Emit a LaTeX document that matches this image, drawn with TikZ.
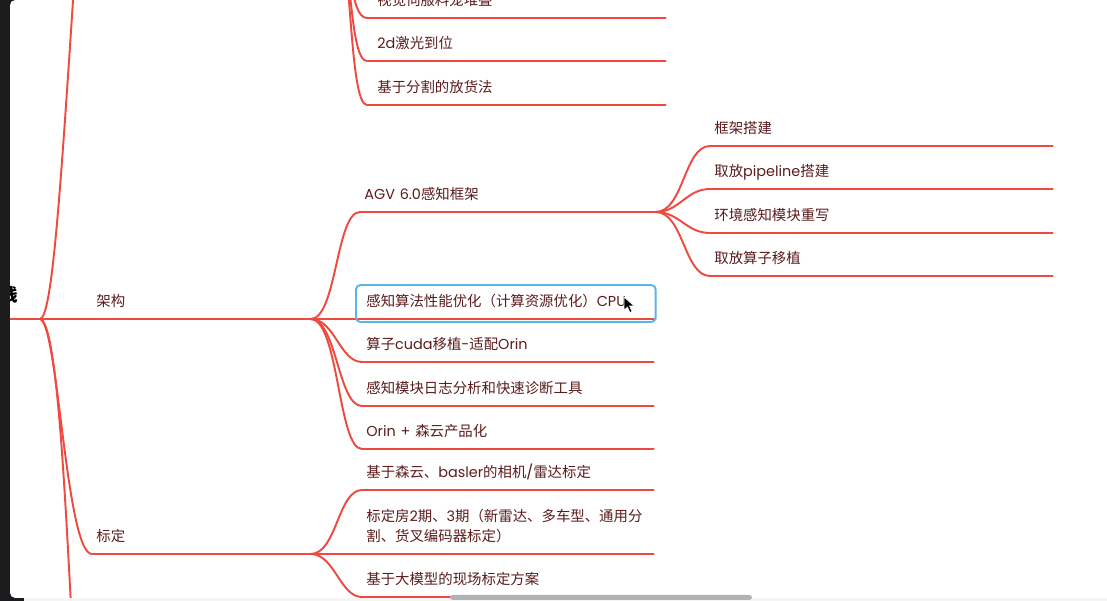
\documentclass[tikz,border=0pt]{standalone}
\usepackage{fontspec}
\setmainfont{Poppins}
\newfontfamily\cjkfont{Noto Sans CJK SC}
\usetikzlibrary{calc}
\definecolor{mmred}{RGB}{238,74,64}
\definecolor{mmtext}{RGB}{92,28,28}
\definecolor{mmblue}{RGB}{88,182,232}
\definecolor{winedge}{RGB}{28,28,30}
\definecolor{scrollgrey}{RGB}{178,178,178}
% CJK runs in Noto, the rest in Poppins
\XeTeXinterchartokenstate=1
\newXeTeXintercharclass\cjkcls
\newcount\cjkc
\cjkc="3000 \loop\XeTeXcharclass\cjkc=\cjkcls\relax\ifnum\cjkc<"9FFF\relax\advance\cjkc by 1\repeat
\cjkc="FF00 \loop\XeTeXcharclass\cjkc=\cjkcls\relax\ifnum\cjkc<"FFEF\relax\advance\cjkc by 1\repeat
\XeTeXinterchartoks 0 \cjkcls={\begingroup\cjkfont}
\XeTeXinterchartoks 4095 \cjkcls={\begingroup\cjkfont}
\XeTeXinterchartoks \cjkcls 0={\endgroup}
\XeTeXinterchartoks \cjkcls 4095={\endgroup}
\tikzset{
  branch/.style={draw=mmred, line width=1.1pt, line cap=round},
  topic/.style={anchor=south west, inner xsep=0.08cm, inner ysep=0pt,
                text width=#1, align=left, text height=0.25cm, text depth=0.237cm,
                font=\fontsize{8.2}{10}\selectfont, text=mmtext},
  selbox/.style={draw=mmblue, line width=1.1pt, rounded corners=2.5pt},
}
\begin{document}
\begin{tikzpicture}[x=0.02cm, y=-0.02cm]
  \useasboundingbox (0,0) rectangle (1107,601);
  % window
  \fill[black!4] (0,0) rectangle (1107,601);
  \fill[winedge] (0,0) rectangle (24,601);
  \fill[white, rounded corners=3pt] (10,0) rectangle (1130,598);
  \begin{scope}
    \clip (10,0) rectangle (1107,598);
    \node[font=\fontsize{10}{12}\selectfont\bfseries, anchor=east, inner sep=0pt] (root) at (18,295) {线};
    \coordinate (rootl) at (0,319);
    \coordinate (r) at (40,319);
    \coordinate (rup) at (75,-30);
    \coordinate (rdown) at (72,625);
    \coordinate (zx) at (338,-60);
    % first level
    \node[topic=4.20cm] (jiagou) at (92,319) {架构};
    \node[topic=4.20cm] (biaoding) at (92,554) {标定};
    \coordinate (jg) at (jiagou.south east);
    \coordinate (bd) at (biaoding.south east);
    % upper subtree, cut off
    \node[topic=5.56cm, inner xsep=0.2cm] (vis) at (367,18) {视觉伺服料笼堆叠};
    \node[topic=5.56cm, inner xsep=0.2cm] (laser) at (367,61) {2d激光到位};
    \node[topic=5.56cm, inner xsep=0.2cm] (seg) at (367,105) {基于分割的放货法};
    % 架构
    \node[topic=5.74cm] (agv) at (360,212) {AGV 6.0感知框架};
    \node[topic=5.70cm] (perf) at (362,319) {感知算法性能优化（计算资源优化）CPU};
    \node[topic=5.66cm] (cuda) at (362,362) {算子cuda移植-适配Orin};
    \node[topic=5.66cm] (logt) at (362,406) {感知模块日志分析和快速诊断工具};
    \node[topic=5.66cm] (orin) at (362,449) {Orin + 森云产品化};
    \node[topic=6.68cm] (kj) at (710,146) {框架搭建};
    \node[topic=6.68cm] (pl) at (710,189) {取放pipeline搭建};
    \node[topic=6.68cm] (hj) at (710,233) {环境感知模块重写};
    \node[topic=6.68cm] (yz) at (710,276) {取放算子移植};
    % 标定
    \node[topic=5.66cm] (cam) at (362,490) {基于森云、basler的相机/雷达标定};
    \node[topic=5.66cm] (room) at (362,554)
      {\parbox[b]{5.6cm}{\baselineskip=11.4pt 标定房2期、3期（新雷达、多车型、通用分\\割、货叉编码器标定）}};
    \node[topic=5.66cm] (llm) at (362,597) {基于大模型的现场标定方案};

    \draw[branch] (rootl) -- (r) -- (jiagou.south west) -- (jg) -- (perf.south west) -- (perf.south east);
    \draw[branch] (r) .. controls +(12,-2) and +(-15,230) .. (rup);
    \draw[branch] (r) .. controls +(16,3) and +(-8,-155) .. (rdown);
    \draw[branch] (r) .. controls +(18,3) and +(-26,0) .. (biaoding.south west) -- (bd) -- (room.south west) -- (room.south east);
    \draw[branch] (zx) .. controls +(14,10) and +(-18,0) .. (vis.south west) -- (vis.south east);
    \draw[branch] (zx) .. controls +(14,10) and +(-18,0) .. (laser.south west) -- (laser.south east);
    \draw[branch] (zx) .. controls +(14,10) and +(-18,0) .. (seg.south west) -- (seg.south east);
    \draw[branch] (jg) .. controls +(26,0) and +(-24,0) .. (agv.south west) -- (agv.south east);
    \draw[branch] (jg) .. controls +(24,0) and +(-22,0) .. (cuda.south west) -- (cuda.south east);
    \draw[branch] (jg) .. controls +(26,0) and +(-24,0) .. (logt.south west) -- (logt.south east);
    \draw[branch] (jg) .. controls +(28,0) and +(-24,0) .. (orin.south west) -- (orin.south east);
    \draw[branch] (agv.south east) .. controls +(28,0) and +(-26,0) .. (kj.south west) -- (kj.south east);
    \draw[branch] (agv.south east) .. controls +(24,0) and +(-24,0) .. (pl.south west) -- (pl.south east);
    \draw[branch] (agv.south east) .. controls +(24,0) and +(-24,0) .. (hj.south west) -- (hj.south east);
    \draw[branch] (agv.south east) .. controls +(28,0) and +(-26,0) .. (yz.south west) -- (yz.south east);
    \draw[branch] (bd) .. controls +(26,0) and +(-24,0) .. (cam.south west) -- (cam.south east);
    \draw[branch] (bd) .. controls +(24,0) and +(-22,0) .. (llm.south west) -- (llm.south east);

    \draw[selbox] ($(perf.south west)+(-6,3)$) rectangle ($(perf.south east)+(0,-34)$);
  \end{scope}
  % scrollbar and pointer
  \fill[scrollgrey, rounded corners=1.5pt] (450,595) rectangle (752,600);
  \fill[black, draw=white, line width=0.3pt] (624,297) -- (624,310) -- (627.5,307) -- (630,312.5)
    -- (632,311.5) -- (629.5,306) -- (634,306) -- cycle;
\end{tikzpicture}
\end{document}
